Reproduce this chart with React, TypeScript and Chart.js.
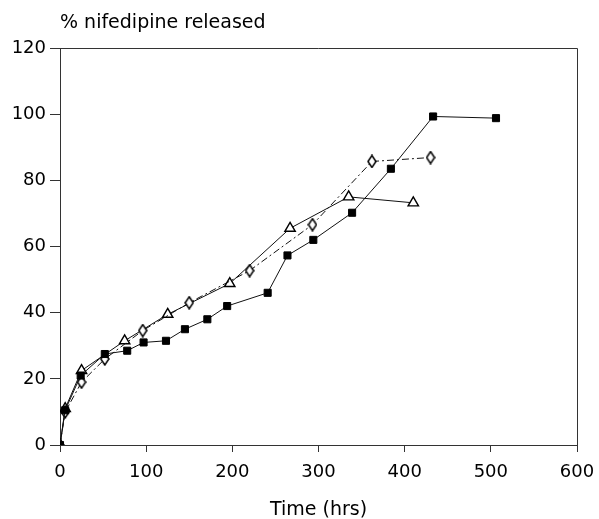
import React, { useEffect, useRef } from "react";
import { Chart, registerables } from "chart.js";

Chart.register(...registerables);

const titleText = "% nifedipine released";
const xTitleText = "Time (hrs)";
const xTicks = [0, 100, 200, 300, 400, 500, 600];
const yTicks = [0, 20, 40, 60, 80, 100, 120];

const squareT = [0, 6, 24, 52, 78, 97, 123, 145, 171, 194, 241, 264, 294, 339, 384, 433, 506];
const squareV = [0, 10.5, 21, 27.5, 28.5, 31, 31.5, 35, 38, 42, 46, 57.3, 62, 70.2, 83.5, 99.3, 98.8];

const diamondT = [0, 6, 25, 52, 96, 150, 220, 293, 362, 430];
const diamondV = [0, 10, 19, 26, 34.6, 43, 52.7, 66.6, 85.7, 86.9];

const triangleT = [0, 6, 25, 75, 125, 197, 267, 335, 410];
const triangleV = [0, 11, 22.5, 31.5, 39.5, 48.8, 65.5, 75, 73.2];

const FONT = "'DejaVu Sans', sans-serif";

function makeDiamond(): HTMLCanvasElement {
  const c = document.createElement("canvas");
  c.width = 10;
  c.height = 14;
  const g = c.getContext("2d")!;
  g.beginPath();
  g.moveTo(5, 1);
  g.lineTo(9, 7);
  g.lineTo(5, 13);
  g.lineTo(1, 7);
  g.closePath();
  g.fillStyle = "#fff";
  g.fill();
  g.lineWidth = 1.5;
  g.strokeStyle = "#000";
  g.stroke();
  return c;
}

export default function App() {
  const ref = useRef<HTMLCanvasElement | null>(null);
  useEffect(() => {
    document.body.style.margin = "0";
    const canvas = ref.current!;
    const diamond = makeDiamond();
    const toPts = (t: number[], v: number[]) => t.map((x, i) => ({ x, y: v[i] }));
    const frame = {
      id: "frame",
      afterDraw(chart: any) {
        const { ctx, chartArea } = chart;
        ctx.save();
        ctx.strokeStyle = "#333";
        ctx.lineWidth = 1;
        ctx.beginPath();
        ctx.moveTo(chartArea.left, chartArea.top + 0.5);
        ctx.lineTo(chartArea.right + 0.5, chartArea.top + 0.5);
        ctx.lineTo(chartArea.right + 0.5, chartArea.bottom);
        ctx.stroke();
        ctx.fillStyle = "#000";
        ctx.font = `19px ${FONT}`;
        ctx.textBaseline = "alphabetic";
        ctx.textAlign = "left";
        ctx.fillText(titleText, chartArea.left, 28);
        ctx.textAlign = "center";
        ctx.fillText(xTitleText, (chartArea.left + chartArea.right) / 2, 515);
        ctx.restore();
      },
    };
    const chart = new Chart(canvas, {
      type: "line",
      data: {
        datasets: [
          {
            label: "triangles",
            data: toPts(triangleT, triangleV),
            borderColor: "#111",
            borderWidth: 1,
            pointStyle: "triangle",
            pointRadius: 6,
            pointBackgroundColor: "#fff",
            pointBorderColor: "#000",
            pointBorderWidth: 1.4,
            tension: 0,
            order: 3,
          },
          {
            label: "diamonds",
            data: toPts(diamondT, diamondV),
            borderColor: "#111",
            borderWidth: 1,
            borderDash: [7, 3, 2, 3],
            pointStyle: diamond as any,
            pointRadius: 6,
            tension: 0,
            order: 2,
          },
          {
            label: "squares",
            data: toPts(squareT, squareV),
            borderColor: "#111",
            borderWidth: 1,
            pointStyle: "rect",
            pointRadius: 5,
            pointBackgroundColor: "#000",
            pointBorderColor: "#000",
            pointBorderWidth: 1,
            tension: 0,
            order: 1,
          },
        ],
      },
      options: {
        animation: false,
        responsive: false,
        layout: { padding: { top: 48, right: 22, left: 0, bottom: 0 } },
        plugins: { legend: { display: false }, tooltip: { enabled: false }, title: { display: false } },
        scales: {
          x: {
            type: "linear",
            min: 0,
            max: 600,
            afterFit: (s: any) => {
              s.height = 74;
              s.paddingLeft = 0;
              s.paddingRight = 0;
            },
            afterBuildTicks: (s: any) => {
              s.ticks = xTicks.map((v) => ({ value: v }));
            },
            ticks: { color: "#000", font: { family: FONT, size: 18 }, padding: 10, maxRotation: 0 },
            grid: { drawOnChartArea: false, drawTicks: true, tickLength: 7, color: "#333" },
            border: { display: true, color: "#333" },
          },
          y: {
            min: 0,
            max: 120,
            afterFit: (s: any) => {
              s.width = 60;
              s.paddingTop = 0;
              s.paddingBottom = 0;
            },
            afterBuildTicks: (s: any) => {
              s.ticks = yTicks.map((v) => ({ value: v }));
            },
            ticks: { color: "#000", font: { family: FONT, size: 18 }, padding: 4 },
            grid: { drawOnChartArea: false, drawTicks: true, tickLength: 10, color: "#333" },
            border: { display: true, color: "#333" },
          },
        },
      },
      plugins: [frame],
    });
    return () => chart.destroy();
  }, []);
  return (
    <div style={{ width: 599, height: 519 }}>
      <canvas ref={ref} width={599} height={519} />
    </div>
  );
}
